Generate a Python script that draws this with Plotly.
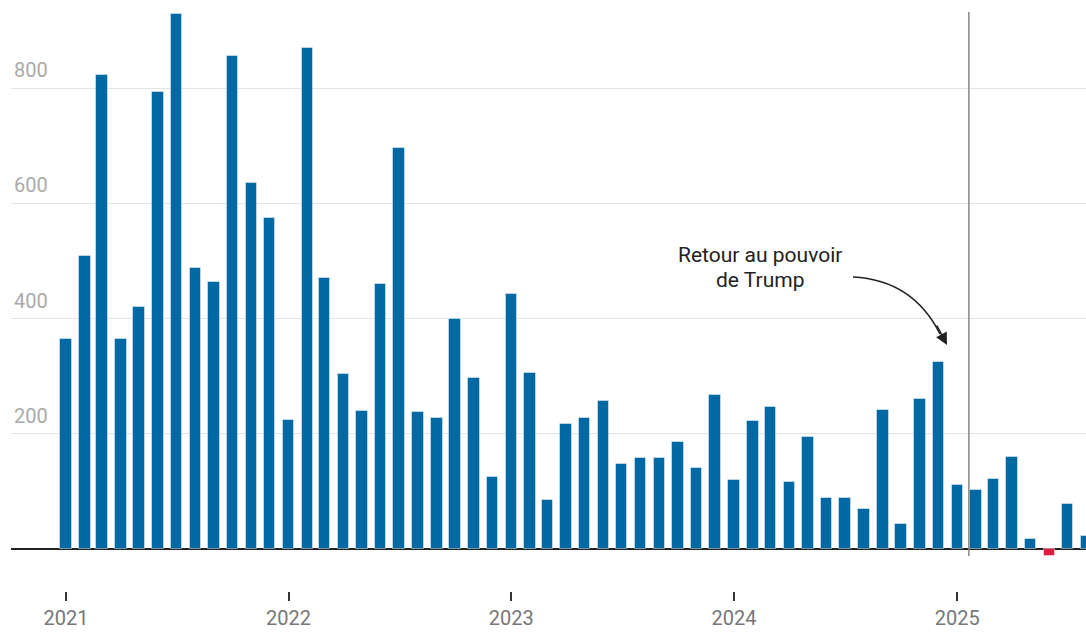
import plotly.graph_objects as go
import pandas as pd

months = pd.date_range("2021-01-01", "2025-08-01", freq="MS").strftime("%Y-%m-%d").tolist()
values = [
    364, 508, 823, 364, 420, 794, 929, 487, 464, 856, 635, 575,
    224, 869, 471, 304, 240, 460, 696, 237, 227, 399, 297, 125,
    443, 306, 85, 217, 227, 257, 147, 157, 158, 185, 141, 268,
    119, 222, 247, 117, 194, 88, 88, 70, 241, 44, 261, 325,
    111, 102, 121, 159, 18, -13, 78, 22,
]
year_ticks = ["2021-01-01", "2022-01-01", "2023-01-01", "2024-01-01", "2025-01-01"]
year_labels = ["2021", "2022", "2023", "2024", "2025"]
y_ticks = [200, 400, 600, 800]
event_date = "2025-01-20"
event_lines = ["Retour au pouvoir", "de Trump"]

BLUE = "#0069a3"
RED = "#dc1f3f"
colors = [RED if v < 0 else BLUE for v in values]

W, H = 1086, 635
ML, MR, MT, MB = 11, 0, 12, 44
PW, PH = W - ML - MR, H - MT - MB


def px(x):
    return (x - ML) / PW


def py(y):
    return (H - MB - y) / PH


fig = go.Figure()
fig.add_trace(go.Bar(
    x=months, y=values,
    marker=dict(color=colors, line=dict(color="rgba(255,255,255,0.45)", width=1)),
    width=18.8 * 86400000,
    hoverinfo="x+y",
))

fig.add_shape(type="line", xref="x", yref="paper", x0=event_date, x1=event_date,
              y0=py(556), y1=1, line=dict(color="#888888", width=1.5))

# curved arrow
x0, y0 = px(853), py(277)
cx, cy = px(913), py(280)
x1, y1 = px(940), py(334)
fig.add_shape(type="path", xref="paper", yref="paper",
              path=f"M {x0},{y0} Q {cx},{cy} {x1},{y1}",
              line=dict(color="#222222", width=1.6))
fig.add_annotation(xref="paper", yref="paper", x=px(947), y=py(345), text="",
                   showarrow=True, ax=-11, ay=-21, arrowhead=2, arrowsize=1.5,
                   arrowwidth=1.6, arrowcolor="#222222", standoff=0)
for line_text, yc in zip(event_lines, [255, 279.5]):
    fig.add_annotation(xref="paper", yref="paper", x=px(760), y=py(yc), text=line_text,
                       showarrow=False, xanchor="center", yanchor="middle",
                       font=dict(family="Roboto", size=21, color="#222222"))

fig.update_layout(
    width=W, height=H,
    margin=dict(l=ML, r=MR, t=MT, b=MB),
    plot_bgcolor="white", paper_bgcolor="white",
    showlegend=False,
    font=dict(family="Roboto"),
    bargap=0,
)
fig.update_xaxes(
    type="date", range=["2020-10-03", "2025-07-31"],
    tickvals=year_ticks, ticktext=year_labels,
    ticks="outside", ticklen=9, tickwidth=1.5, tickcolor="#333333",
    tickfont=dict(size=20, color="#777777"),
    showgrid=False, showline=False, zeroline=False,
)
fig.update_yaxes(
    range=[-73, 932],
    tickvals=y_ticks, ticklabelposition="inside top", ticklabelshift=-4,
    tickfont=dict(size=20, color="#aaaaaa"),
    showgrid=True, gridcolor="#e4e4e4", gridwidth=1,
    zeroline=True, zerolinecolor="#222222", zerolinewidth=1.5,
    showline=False, ticks="",
)

fig.write_html("out.html", config={"displayModeBar": False},
               post_script="document.body.style.margin='0';")
